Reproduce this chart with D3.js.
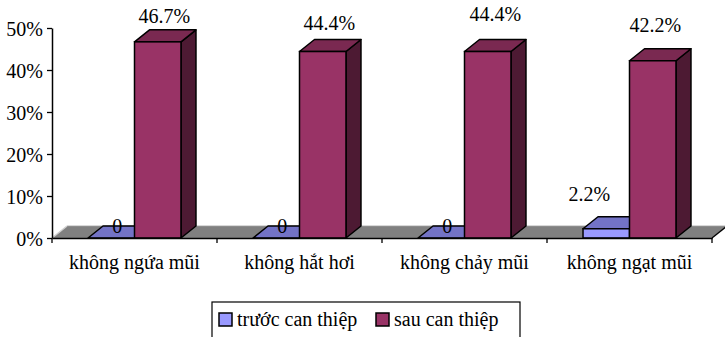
<!DOCTYPE html>
<html><head><meta charset="utf-8">
<script src="https://cdn.jsdelivr.net/npm/d3@7"></script>
<style>html,body{margin:0;padding:0;background:#fff;}svg{display:block;}</style>
</head><body><svg id="c" width="725" height="337"></svg>
<script>
const categories = ["không ngứa mũi", "không hắt hơi", "không chảy mũi", "không ngạt mũi"];
const seriesNames = ["trước can thiệp", "sau can thiệp"];
const truocValues = [0, 0, 0, 0.022];
const sauValues = [0.467, 0.444, 0.444, 0.422];
const truocLabels = ["0", "0", "0", "2.2%"];
const sauLabels = ["46.7%", "44.4%", "44.4%", "42.2%"];
const yTicks = [0, 0.1, 0.2, 0.3, 0.4, 0.5];

// styling (not data)
const FONT = "Liberation Serif";
const FS = 20;
const colors = {
  front: ["#9999FF", "#993366"],
  top: ["#7373C6", "#7A2951"],
  side: ["#4D4D80", "#4D1A33"]
};
const labelNudge = {
  0: [[-1.5,0],[-1.5,0],[-1.5,0],[-24.5,-16]],
  1: [[-1,-7],[-1,-9.5],[0,-18.5],[-5,-17]]
};
const DX = 15, DY = -12;

const svg = d3.select("#c");
const x0 = d3.scaleBand().domain(categories).range([52, 712]).paddingInner(0).paddingOuter(0);
const x1 = d3.scaleBand().domain(seriesNames).range([0, x0.bandwidth()]).paddingInner(0).paddingOuter(0.775);
const y = d3.scaleLinear().domain([0, 0.5]).range([238, 28]);
const y0 = y(0);

// floor
const fl = x0.range();
svg.append("polygon")
  .attr("points", [[fl[0], y0],[fl[1], y0],[fl[1]+DX, y0+DY],[fl[0]+DX, y0+DY]].map(p=>p.join(",")).join(" "))
  .attr("fill", "#808080");
svg.append("line").attr("x1", fl[0]).attr("y1", y0).attr("x2", fl[0]+DX).attr("y2", y0+DY)
  .attr("stroke", "#d0d0d0").attr("stroke-width", 1.5);
svg.append("line").attr("x1", fl[0]+DX).attr("y1", y0+DY).attr("x2", fl[1]+DX).attr("y2", y0+DY)
  .attr("stroke", "#a0a0a0").attr("stroke-width", 0.8);
svg.append("line").attr("x1", fl[1]).attr("y1", y0).attr("x2", fl[1]+DX).attr("y2", y0+DY)
  .attr("stroke", "#000").attr("stroke-width", 1.3);

const allValues = [truocValues, sauValues];
const allLabels = [truocLabels, sauLabels];

function drawBar(g, xl, w, v, s) {
  const yt = y(v);
  const pts = a => a.map(p => p.join(",")).join(" ");
  if (y0 - yt > 0.5) {
    g.append("polygon").attr("points", pts([[xl+w, yt],[xl+w+DX, yt+DY],[xl+w+DX, y0+DY],[xl+w, y0]]))
      .attr("fill", colors.side[s]).attr("stroke", "#000").attr("stroke-width", 1.5).attr("stroke-linejoin","round");
  }
  g.append("polygon").attr("points", pts([[xl, yt],[xl+DX, yt+DY],[xl+w+DX, yt+DY],[xl+w, yt]]))
    .attr("fill", colors.top[s]).attr("stroke", "#000").attr("stroke-width", 1.5).attr("stroke-linejoin","round");
  if (y0 - yt > 0.5) {
    g.append("rect").attr("x", xl).attr("y", yt).attr("width", w).attr("height", y0 - yt)
      .attr("fill", colors.front[s]).attr("stroke", "#000").attr("stroke-width", 1.5);
  }
}

const bars = svg.append("g");
categories.forEach((c, i) => {
  seriesNames.forEach((sn, s) => {
    drawBar(bars, x0(c) + x1(sn), x1.bandwidth(), allValues[s][i], s);
  });
});

// axes
const yAxis = d3.axisLeft(y).tickValues(yTicks).tickFormat(d3.format(".0%")).tickSize(5).tickSizeOuter(0);
const gy = svg.append("g").attr("transform", "translate(52,0)").call(yAxis);
gy.attr("font-family", FONT).attr("font-size", FS);
gy.select(".domain").attr("stroke", "#000").attr("stroke-width", 1.5);
gy.selectAll(".tick line").attr("stroke", "#000").attr("stroke-width", 1.3);
gy.selectAll(".tick text").attr("font-family", FONT).attr("font-size", FS).attr("fill", "#000").attr("x", -9).attr("dy", "0.35em");

const xAxis = d3.axisBottom(x0).tickSize(0).tickSizeOuter(0);
const gx = svg.append("g").attr("transform", `translate(0,${y0})`).call(xAxis);
gx.attr("font-family", FONT).attr("font-size", FS);
gx.select(".domain").attr("stroke", "#000").attr("stroke-width", 1.5);
gx.selectAll(".tick text").attr("font-family", FONT).attr("font-size", FS).attr("fill", "#000").attr("y", 0).attr("dy", 31);
const bounds = categories.map(c => x0(c)).concat([x0.range()[1]]);
gx.selectAll(".btick").data(bounds).join("line").attr("class", "btick")
  .attr("x1", d => d).attr("x2", d => d).attr("y1", 0).attr("y2", 5).attr("stroke", "#000").attr("stroke-width", 1.3);

// data labels
const lab = svg.append("g").attr("fill", "#000").attr("text-anchor", "middle").attr("font-family", FONT).attr("font-size", FS);
categories.forEach((c, i) => {
  seriesNames.forEach((sn, s) => {
    const xl = x0(c) + x1(sn);
    const cx = xl + x1.bandwidth() / 2 + DX / 2 + labelNudge[s][i][0];
    const v = allValues[s][i];
    const ty = v === 0 ? y0 - 5 : y(v) + DY + labelNudge[s][i][1];
    lab.append("text").attr("x", cx).attr("y", ty).text(allLabels[s][i]);
  });
});

// legend
const lg = svg.append("g").attr("font-family", FONT).attr("font-size", FS);
lg.append("rect").attr("x", 212).attr("y", 302).attr("width", 308).attr("height", 40)
  .attr("fill", "#fff").attr("stroke", "#000").attr("stroke-width", 1.2);
const legX = [219, 376];
seriesNames.forEach((sn, s) => {
  lg.append("rect").attr("x", legX[s]).attr("y", 313).attr("width", 13).attr("height", 13)
    .attr("fill", colors.front[s]).attr("stroke", "#000").attr("stroke-width", 1.5);
  lg.append("text").attr("x", legX[s] + 18).attr("y", 326).attr("fill", "#000").text(sn);
});
</script></body></html>
